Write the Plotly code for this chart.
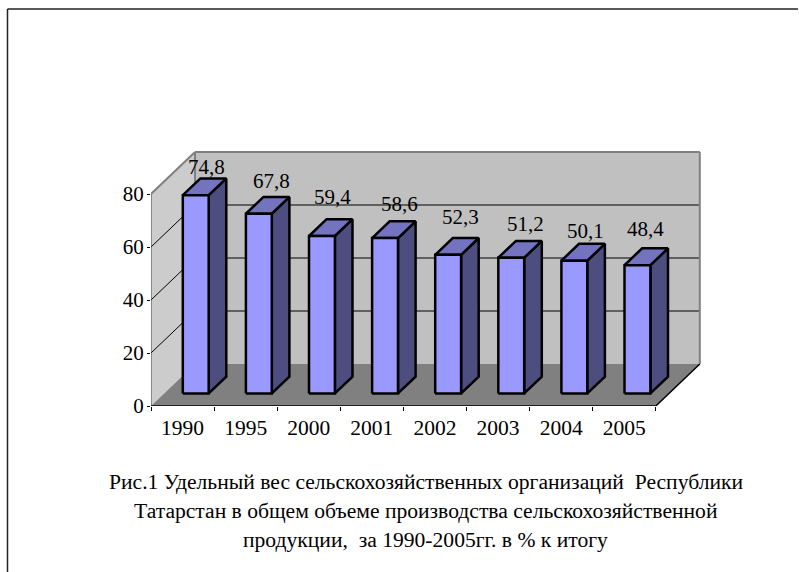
import plotly.graph_objects as go

years = ["1990", "1995", "2000", "2001", "2002", "2003", "2004", "2005"]
values = [74.8, 67.8, 59.4, 58.6, 52.3, 51.2, 50.1, 48.4]
value_labels = ["74,8", "67,8", "59,4", "58,6", "52,3", "51,2", "50,1", "48,4"]
y_ticks = [0, 20, 40, 60, 80]
caption_lines = [
    "Рис.1 Удельный вес сельскохозяйственных организаций  Республики",
    "Татарстан в общем объеме производства сельскохозяйственной",
    "продукции,  за 1990-2005гг. в % к итогу",
]

# layout of the oblique projection
W, H = 799, 572
PX_X, PX_Y = 63.1, 2.65          # pixels per category / per value unit
LEFT, BASE, RIGHT, TOP = 151, 406, 706, 146  # plot area (a little beyond the walls so borders are not clipped)
DX = 44 / PX_X                   # full depth expressed in x units
DY = 42 / PX_Y                   # full depth expressed in y units
BAR_W, Z0, Z1 = 0.41, 0.30, 0.70
label_shift_y = [28, 33, 39, 34, 38, 34, 30, 36]
label_shift_x = [11, 13, 11, 14, 12, 14, 11, 8]
SERIF = "Liberation Serif"


def P(x, y, z=0.0):
    return x + z * DX, y + z * DY


def poly(pts):
    xs, ys = zip(*pts)
    return list(xs) + [xs[0]], list(ys) + [ys[0]]


def area(pts, fill, line="rgba(0,0,0,0)", lw=0):
    x, y = poly(pts)
    return go.Scatter(x=x, y=y, mode="lines", fill="toself", fillcolor=fill,
                      line=dict(color=line, width=lw), hoverinfo="skip", showlegend=False)


def segs(pairs, color, lw):
    x, y = [], []
    for a, b in pairs:
        x += [a[0], b[0], None]
        y += [a[1], b[1], None]
    return go.Scatter(x=x, y=y, mode="lines", line=dict(color=color, width=lw),
                      hoverinfo="skip", showlegend=False)


n = len(years)
vmax = y_ticks[-1]
fig = go.Figure()

# walls and floor
fig.add_trace(area([P(0, 0, 1), P(n, 0, 1), P(n, vmax, 1), P(0, vmax, 1)], "#C0C0C0"))
fig.add_trace(area([P(0, 0, 0), P(0, 0, 1), P(0, vmax, 1), P(0, vmax, 0)], "#CCCCCC"))
fig.add_trace(area([P(0, 0, 0), P(n, 0, 0), P(n, 0, 1), P(0, 0, 1)], "#808080"))

# gridlines
inner = [t for t in y_ticks if 0 < t < vmax]
fig.add_trace(segs([(P(0, t, 0), P(0, t, 1)) for t in inner]
                   + [(P(0, t, 1), P(n, t, 1)) for t in inner], "#000000", 1))

# wall borders
fig.add_trace(segs([(P(0, vmax, 0), P(0, vmax, 1)), (P(0, vmax, 1), P(n, vmax, 1)),
                    (P(n, vmax, 1), P(n, 0, 1)), (P(0, 0, 1), P(0, vmax, 1))], "#808080", 2))
fig.add_trace(segs([(P(0, 0, 0), P(0, vmax, 0))], "#404040", 1))
fig.add_trace(segs([(P(0, 0, 0), P(n, 0, 0)), (P(n, 0, 0), P(n, 0, 1))], "#000000", 1.5))

# bars
for i, v in enumerate(values):
    a = i + (1 - BAR_W) / 2
    b = a + BAR_W
    fig.add_trace(area([P(b, 0, Z0), P(b, 0, Z1), P(b, v, Z1), P(b, v, Z0)], "#4D4D80", "#000000", 2.5))
    fig.add_trace(area([P(a, v, Z0), P(b, v, Z0), P(b, v, Z1), P(a, v, Z1)], "#7373BF", "#000000", 2.5))
    fig.add_trace(area([P(a, 0, Z0), P(b, 0, Z0), P(b, v, Z0), P(a, v, Z0)], "#9999FF", "#000000", 2.5))

annotations = []
for i, (v, lab, sx, sy) in enumerate(zip(values, value_labels, label_shift_x, label_shift_y)):
    x, y = P(i + 0.5, v, Z0)
    annotations.append(dict(x=x, y=y, xref="x", yref="y", text=lab, showarrow=False,
                            yshift=sy, xshift=sx, font=dict(family=SERIF, size=21, color="#000000")))
for line, ypx in zip(caption_lines, [482, 511, 540]):
    annotations.append(dict(x=425.5 / W, y=1 - ypx / H, xref="paper", yref="paper", text=line,
                            showarrow=False, xanchor="center", yanchor="middle",
                            font=dict(family=SERIF, size=21.6, color="#000000")))

shapes = [
    dict(type="line", xref="paper", yref="paper", x0=7.5 / W, x1=7.5 / W, y0=0, y1=1 - 9 / H,
         line=dict(color="#222222", width=1.5)),
    dict(type="line", xref="paper", yref="paper", x0=7.5 / W, x1=798 / W, y0=1 - 9 / H, y1=1 - 9 / H,
         line=dict(color="#222222", width=1.5)),
]

fig.update_layout(
    width=W, height=H, autosize=False, margin=dict(l=0, r=0, t=0, b=0),
    paper_bgcolor="#FFFFFF", plot_bgcolor="rgba(0,0,0,0)", showlegend=False,
    annotations=annotations, shapes=shapes,
    font=dict(family=SERIF, size=21, color="#000000"),
    xaxis=dict(domain=[LEFT / W, RIGHT / W], range=[0, (RIGHT - LEFT) / PX_X], showgrid=False,
               automargin=False, zeroline=False, showline=False, tickmode="array",
               tickvals=[i + 0.5 for i in range(n)], ticktext=years, ticks="", ticklabelstandoff=6,
               tickfont=dict(family=SERIF, size=21.5, color="#000000"),
               minor=dict(tickmode="array", tickvals=list(range(n + 1)), ticks="outside", ticklen=4,
                          tickcolor="#000000", tickwidth=1, showgrid=False)),
    yaxis=dict(domain=[1 - BASE / H, 1 - TOP / H], range=[0, (BASE - TOP) / PX_Y], showgrid=False,
               automargin=False, zeroline=False, showline=False, tickmode="array", tickvals=y_ticks,
               ticks="outside", ticklen=3, tickcolor="#000000", tickwidth=1, ticklabelstandoff=-1),
)

fig.write_html("out.html", config={"displayModeBar": False},
               post_script="document.body.style.margin='0';document.body.style.overflow='hidden';")
